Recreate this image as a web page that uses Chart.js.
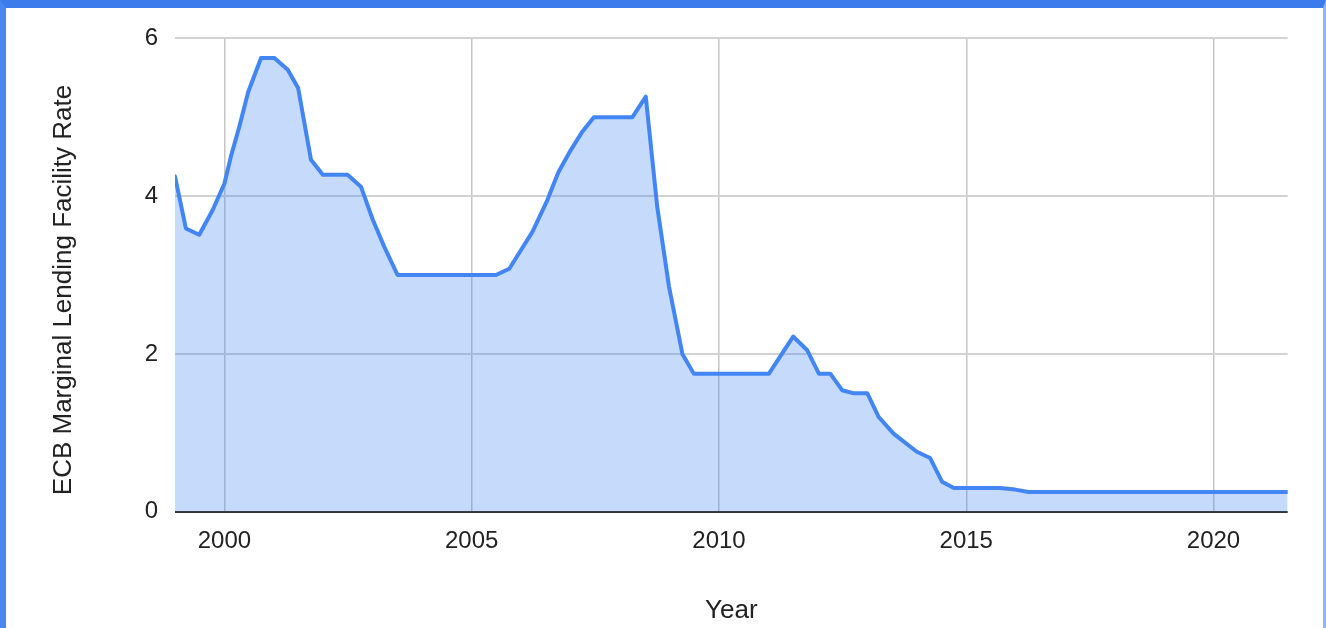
<!DOCTYPE html>
<html>
<head>
<meta charset="utf-8">
<title>ECB Marginal Lending Facility Rate</title>
<script src="https://cdn.jsdelivr.net/npm/chart.js@4.4.1/dist/chart.umd.min.js"></script>
<style>
  html, body { margin: 0; padding: 0; background: #fff; }
  #wrap { position: relative; width: 1326px; height: 628px; overflow: hidden; }
  #frame {
    position: absolute; left: 0; top: 0; width: 1326px; height: 628px; box-sizing: border-box;
    border-top: 8px solid #3b7bec; border-left: 6px solid #4a86ef; border-right: 3px solid #92b2f2;
  }
  #chart { position: absolute; left: 0; top: 0; }
</style>
</head>
<body>
<div id="wrap">
  <div id="frame"></div>
  <canvas id="chart" width="1326" height="628"></canvas>
</div>
<script>
// rate readings (decimal year -> percent)
const years = [
  1999.0, 1999.22, 1999.49, 1999.76, 2000.0, 2000.13, 2000.30, 2000.48, 2000.74, 2001.01,
  2001.28, 2001.49, 2001.75, 2001.99, 2002.49, 2002.76, 2003.0, 2003.23, 2003.5, 2005.49,
  2005.76, 2006.0, 2006.23, 2006.53, 2006.75, 2007.0, 2007.24, 2007.47, 2008.25, 2008.52,
  2008.75, 2008.99, 2009.26, 2009.49, 2011.01, 2011.5, 2011.78, 2012.02, 2012.25, 2012.49,
  2012.73, 2013.0, 2013.23, 2013.53, 2014.0, 2014.27, 2014.51, 2014.75, 2015.69, 2015.99,
  2016.26, 2021.5
];
const rates = [
  4.25, 3.59, 3.51, 3.82, 4.16, 4.5, 4.88, 5.32, 5.75, 5.75,
  5.6, 5.37, 4.46, 4.27, 4.27, 4.12, 3.7, 3.36, 3.0, 3.0,
  3.08, 3.32, 3.55, 3.95, 4.3, 4.58, 4.82, 5.0, 5.0, 5.26,
  3.87, 2.85, 2.0, 1.75, 1.75, 2.22, 2.05, 1.75, 1.75, 1.54,
  1.5, 1.5, 1.2, 0.99, 0.76, 0.68, 0.38, 0.3, 0.3, 0.28,
  0.25, 0.25
];
const yearTicks = [2000, 2005, 2010, 2015, 2020];
const rateTicks = [0, 2, 4, 6];

const xTitle = 'Year';
const yTitle = 'ECB Marginal Lending Facility Rate';

const FONT = '"Liberation Sans", Arial, sans-serif';
const TEXT = '#222';

Chart.defaults.font.family = FONT;
Chart.defaults.color = TEXT;

// y title drawn by hand so it can sit centred on the whole left side
const yTitlePlugin = {
  id: 'yTitle',
  afterDraw(chart) {
    const { ctx } = chart;
    ctx.save();
    ctx.translate(64, 290);
    ctx.rotate(-Math.PI / 2);
    ctx.font = '26px ' + FONT;
    ctx.fillStyle = TEXT;
    ctx.textAlign = 'center';
    ctx.textBaseline = 'middle';
    ctx.fillText(yTitle, 0, 0);
    ctx.restore();
  }
};

new Chart(document.getElementById('chart'), {
  type: 'line',
  data: {
    datasets: [{
      data: years.map((x, i) => ({ x, y: rates[i] })),
      borderColor: '#4285f4',
      backgroundColor: 'rgba(66,133,244,0.3)',
      borderWidth: 4,
      borderJoinStyle: 'round',
      borderCapStyle: 'round',
      fill: 'origin',
      tension: 0,
      pointRadius: 0
    }]
  },
  options: {
    responsive: false,
    animation: false,
    devicePixelRatio: 1,
    layout: { padding: { left: 0, top: 38.3, right: 38.3, bottom: 0 } },
    plugins: { legend: { display: false }, tooltip: { enabled: false } },
    scales: {
      x: {
        type: 'linear',
        min: 1999,
        max: 2021.5,
        afterBuildTicks: axis => { axis.ticks = yearTicks.map(v => ({ value: v })); },
        afterFit: axis => { axis.height = 116.3; },
        ticks: {
          padding: 15,
          maxRotation: 0,
          autoSkip: false,
          font: { size: 24 },
          color: TEXT,
          callback: v => String(v)
        },
        grid: { color: '#c4c4c4', lineWidth: 1.5, drawTicks: false },
        border: { display: false },
        title: {
          display: true,
          text: xTitle,
          font: { size: 26 },
          color: TEXT,
          padding: { top: 0, bottom: 2 }
        }
      },
      y: {
        min: 0,
        max: 6,
        afterBuildTicks: axis => { axis.ticks = rateTicks.map(v => ({ value: v })); },
        afterFit: axis => { axis.width = 175; },
        ticks: {
          padding: 17,
          font: { size: 24 },
          color: TEXT,
          callback: v => String(v)
        },
        grid: {
          color: c => (c.tick && c.tick.value === 0 ? '#333' : '#d2d2d2'),
          lineWidth: 2,
          drawTicks: false
        },
        border: { display: false }
      }
    }
  },
  plugins: [yTitlePlugin]
});
</script>
</body>
</html>
